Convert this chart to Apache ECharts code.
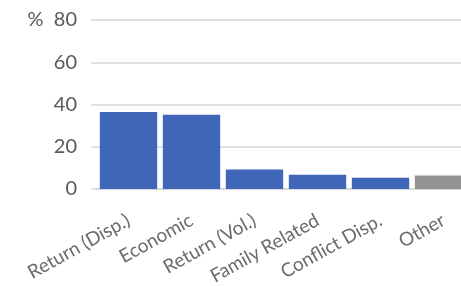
<!DOCTYPE html>
<html>
<head>
<meta charset="utf-8">
<script src="https://cdn.jsdelivr.net/npm/echarts@6/dist/echarts.min.js"></script>
<style>
  html, body { margin: 0; padding: 0; background: #fff; }
  #chart { width: 461px; height: 286px; }
</style>
</head>
<body>
<div id="chart"></div>
<script>
// 数据
var categories = ["Return (Disp.)", "Economic", "Return (Vol.)", "Family Related", "Conflict Disp.", "Other"];
var values = [36.5, 35.2, 9.2, 6.8, 5.3, 6.4];
var barColors = ["#4066b8", "#4066b8", "#4066b8", "#4066b8", "#4066b8", "#939393"];
var yTicks = [0, 20, 40, 60, 80];

var myChart = echarts.init(document.getElementById("chart"));

var option = {
  animation: false,
  textStyle: { fontFamily: "Lato" },
  grid: { left: 97, right: -14, top: 20, bottom: 97, outerBoundsMode: "none" },
  xAxis: {
    type: "category",
    data: categories,
    axisLine: { lineStyle: { color: "#d6d6d6", width: 1.5 } },
    axisTick: { show: false },
    axisLabel: {
      interval: 0,
      rotate: 29,
      margin: 30,
      fontSize: 19,
      color: "#6b6b6b"
    }
  },
  yAxis: {
    type: "value",
    min: yTicks[0],
    max: yTicks[yTicks.length - 1],
    interval: 20,
    axisLine: { show: false },
    axisTick: { show: true, length: 6, lineStyle: { color: "#d6d6d6", width: 1.5 } },
    splitLine: { lineStyle: { color: "#d6d6d6", width: 1.5 } },
    axisLabel: {
      margin: 20,
      fontSize: 20,
      color: "#595959",
      formatter: function (v) { return v === 80 ? "%  80" : String(v); }
    }
  },
  series: [{
    type: "bar",
    barCategoryGap: "9%",
    data: values.map(function (v, i) {
      return { value: v, itemStyle: { color: barColors[i] } };
    })
  }]
};

myChart.setOption(option);
</script>
</body>
</html>
